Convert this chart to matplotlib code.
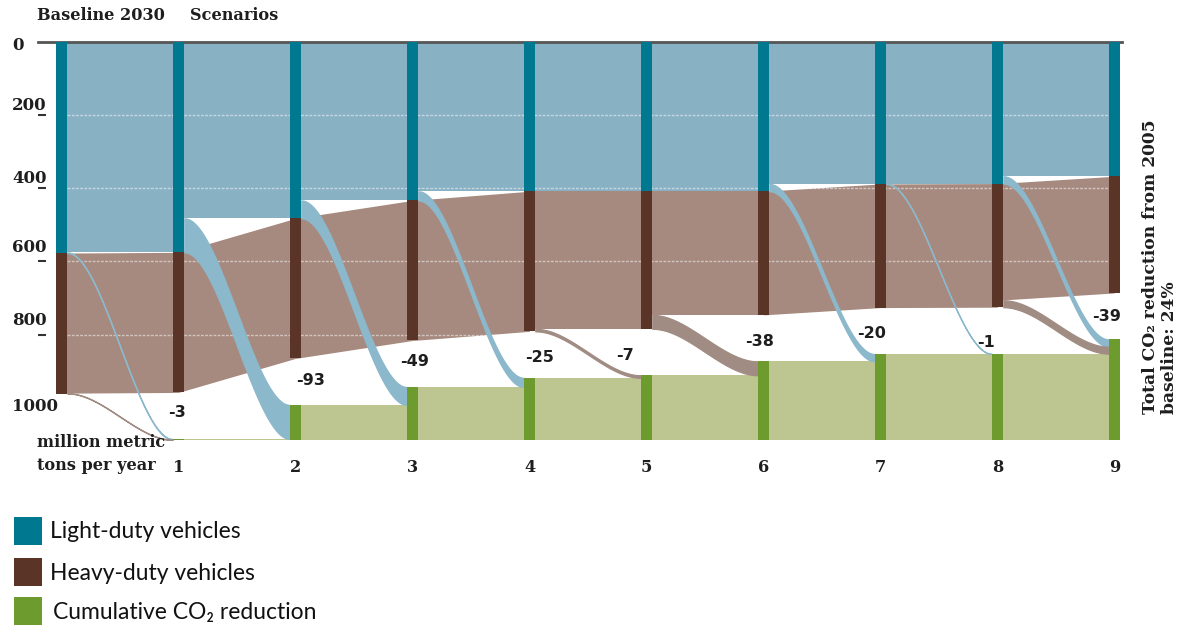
import matplotlib
matplotlib.use('Agg')
import matplotlib.pyplot as plt  # noqa: E402
import numpy as np
from matplotlib.patches import Rectangle

# million metric tons per year, column 0 is the 2030 baseline
light_duty = [577, 575, 482, 433, 408, 408, 408, 388, 387, 367]
heavy_duty = [384, 383, 383, 383, 383, 376, 338, 338, 338, 319]
step_labels = ['-3', '-93', '-49', '-25', '-7', '-38', '-20', '-1', '-39']
scenario_labels = ['1', '2', '3', '4', '5', '6', '7', '8', '9']
y_ticks = [0, 200, 400, 600, 800, 1000]
legend_labels = ['Light-duty vehicles', 'Heavy-duty vehicles',
                 'Cumulative CO\u2082 reduction']

# layout (pixels of a 1181x626 figure)
W, H = 1181, 626
BOTTOM = 1088          # level the cumulative reduction sits on
BAR_W = 0.1
y_label_nudge = [-3, 10, 10, 14, 14, 1]
label_nudge = [(-1, 26), (15, 24), (2, 25), (10, 20), (-21, 20),
               (-4, 20), (-9, 21), (-11, 11), (-8, 23)]
legend_rows = [(517, 50), (558, 50), (597, 53)]   # square top, text x

c_ldv, c_ldv_flow = '#00788f', '#89b1c4'
c_hdv, c_hdv_flow = '#5a3426', '#a68a7f'
c_cum, c_cum_flow = '#6e9b2d', '#bdc690'
c_ldv_cut, c_hdv_cut = '#8cb8cc', '#a08c82'
txt = '#1e1e1e'
serif = 'DejaVu Serif'

ldv = np.array(light_duty, dtype=float)
hdv = np.array(heavy_duty, dtype=float)
total = ldv + hdv
cum = total[0] - total
xs = np.arange(len(ldv))

fig = plt.figure(figsize=(W / 100, H / 100), dpi=100)
ax = fig.add_axes([38 / W, 1 - 440 / H, 1084 / W, 398 / H])
ax.set_xlim(-0.2, 9.064)
ax.set_ylim(BOTTOM, 0)

t = np.linspace(0, 1, 80)
s = 3 * t ** 2 - 2 * t ** 3


def band(x0, x1, top0, bot0, top1, bot1, color):
    xx = x0 + (x1 - x0) * t
    ax.fill_between(xx, top0 + (top1 - top0) * s, bot0 + (bot1 - bot0) * s,
                    facecolor=color, edgecolor=color, lw=0.9, zorder=2)


w = BAR_W / 2
for i in range(len(xs) - 1):
    a, b = xs[i], xs[i + 1]
    # what is kept flows straight on
    ax.fill_between([a, b], [0, 0], [ldv[i + 1]] * 2,
                    color=c_ldv_flow, lw=0, zorder=1)
    ax.fill_between([a, b], [ldv[i], ldv[i + 1]],
                    [ldv[i] + hdv[i + 1], ldv[i + 1] + hdv[i + 1]],
                    color=c_hdv_flow, lw=0, zorder=1)
    ax.fill_between([a, b], [BOTTOM - cum[i]] * 2, [BOTTOM] * 2,
                    color=c_cum_flow, lw=0, zorder=1)
    # what is cut drops onto the cumulative reduction
    dl = ldv[i] - ldv[i + 1]
    dh = hdv[i] - hdv[i + 1]
    g = BOTTOM - cum[i + 1]
    if dl > 0:
        band(a + w, b - w, ldv[i + 1], ldv[i], g, g + dl, c_ldv_cut)
    if dh > 0:
        band(a + w, b - w, ldv[i] + hdv[i + 1], ldv[i] + hdv[i],
             g + dl, g + dl + dh, c_hdv_cut)

ax.hlines(y_ticks[1:-1], -0.2, 9.064, colors='white', alpha=0.5,
          linestyles=(0, (2, 1)), lw=1, zorder=1.5)

ax.bar(xs, ldv, width=BAR_W, bottom=0, color=c_ldv, zorder=3)
ax.bar(xs, hdv, width=BAR_W, bottom=ldv, color=c_hdv, zorder=3)
ax.bar(xs, cum, width=BAR_W, bottom=BOTTOM - cum, color=c_cum, zorder=3)

for side in ['left', 'right', 'bottom']:
    ax.spines[side].set_visible(False)
ax.spines['top'].set_color('#555555')
ax.spines['top'].set_linewidth(2)

ax.set_yticks(y_ticks[1:-1])
ax.set_yticklabels([])
ax.tick_params(axis='y', direction='in', length=6, width=1.5, color='#333333')
ax.set_xticks(xs[1:])
ax.set_xticklabels(scenario_labels, fontsize=11.6, fontweight='bold',
                   family=serif, color=txt)
ax.tick_params(axis='x', length=0, pad=14)

for v, dy in zip(y_ticks, y_label_nudge):
    ax.annotate(str(v), xy=(12, v), xycoords=('figure pixels', 'data'),
                xytext=(0, dy * 0.72), textcoords='offset points',
                ha='left', va='center', fontsize=12, fontweight='bold',
                family=serif, color=txt, annotation_clip=False)

for i, (lab, (dx, dy)) in enumerate(zip(step_labels, label_nudge)):
    col = i + 1
    ax.annotate(lab, xy=(col, BOTTOM - cum[col]),
                xytext=(dx * 0.72, dy * 0.72), textcoords='offset points',
                ha='center', va='center', fontsize=11.5, fontweight='bold',
                family='DejaVu Sans', color=txt, zorder=5)

fig.text(37 / W, 1 - 16 / H, 'Baseline 2030', ha='left', va='center',
         fontsize=11.6, fontweight='bold', family=serif, color=txt)
fig.text(190 / W, 1 - 16 / H, 'Scenarios', ha='left', va='center',
         fontsize=11.6, fontweight='bold', family=serif, color=txt)
fig.text(37 / W, 1 - 454 / H, 'million metric\ntons per year', ha='left',
         va='center', fontsize=11.6, fontweight='bold', family=serif,
         color=txt, linespacing=1.5)
fig.text(1160 / W, 1 - 414 / H,
         'Total CO\u2082 reduction from 2005\nbaseline: 24%',
         rotation=90, rotation_mode='anchor', ha='left', va='center',
         multialignment='left', fontsize=12.3, fontweight='bold',
         family=serif, color=txt, linespacing=1.15)

# legend drawn by hand so the squares match
for (top, tx), c, lab in zip(legend_rows, (c_ldv, c_hdv, c_cum), legend_labels):
    fig.add_artist(Rectangle((14 / W, 1 - (top + 28) / H), 28 / W, 28 / H,
                             transform=fig.transFigure, facecolor=c,
                             edgecolor='none'))
    fig.text(tx / W, 1 - (top + 15) / H, lab, ha='left', va='center',
             fontsize=16.5, family=['Lato', 'DejaVu Sans'], color='#111111')

fig.savefig('out.png', dpi=100)
plt.close(fig)
